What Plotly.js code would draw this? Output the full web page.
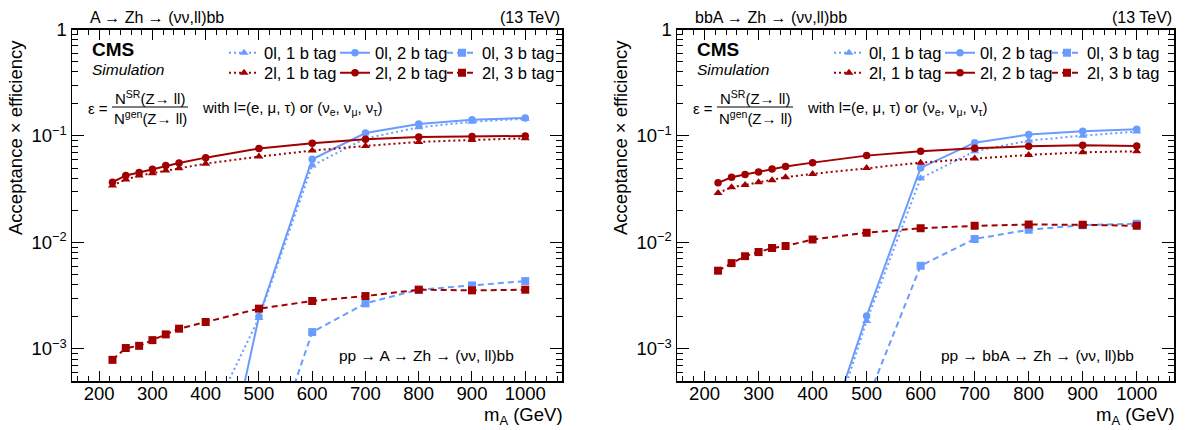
<!DOCTYPE html>
<html>
<head>
<meta charset="utf-8">
<script src="https://cdn.plot.ly/plotly-3.0.1.min.js"></script>
<style>html,body{margin:0;padding:0;background:#fff;}#chart{width:1185px;height:430px;}</style>
</head>
<body>
<div id="chart"></div>
<script>
// ---------------- data ----------------
const massAll = [225, 250, 275, 300, 325, 350, 400, 500, 600, 700, 800, 900, 1000];
const mass0l12 = [400, 500, 600, 700, 800, 900, 1000];
const mass0l3 = [500, 600, 700, 800, 900, 1000];

// A -> Zh (left panel)
const A_0l_1b = [1.8e-4, 0.00195, 0.0527, 0.0950, 0.1205, 0.1360, 0.1454];
const A_0l_2b = [1.0e-5, 0.00202, 0.0604, 0.1067, 0.1296, 0.1423, 0.1476];
const A_0l_3b = [4.9e-5, 0.00144, 0.00268, 0.00360, 0.00395, 0.00434];
const A_2l_1b = [0.0342, 0.0390, 0.0425, 0.0447, 0.0473, 0.0498, 0.0550, 0.0640, 0.0729, 0.0806, 0.0879, 0.0917, 0.0950];
const A_2l_2b = [0.0368, 0.0425, 0.0453, 0.0487, 0.0527, 0.0558, 0.0626, 0.0761, 0.0853, 0.0930, 0.0980, 0.0990, 0.1000];
const A_2l_3b = [0.00079, 0.00102, 0.00107, 0.00121, 0.00137, 0.00155, 0.00179, 0.00239, 0.00282, 0.00314, 0.00360, 0.00355, 0.00360];

// bbA -> Zh (right panel)
const B_0l_1b = [5.0e-5, 0.00183, 0.0401, 0.0718, 0.0904, 0.1007, 0.1099];
const B_0l_2b = [6.1e-5, 0.00204, 0.0501, 0.0866, 0.1030, 0.1106, 0.1155];
const B_0l_3b = [3.2e-4, 0.00604, 0.0108, 0.01315, 0.01454, 0.0150];
const B_2l_1b = [0.0292, 0.0330, 0.0347, 0.0368, 0.0384, 0.0410, 0.0440, 0.0501, 0.0562, 0.0613, 0.0664, 0.0703, 0.0718];
const B_2l_2b = [0.0363, 0.0410, 0.0434, 0.0460, 0.0491, 0.0516, 0.0562, 0.0654, 0.0718, 0.0766, 0.0800, 0.0818, 0.0806];
const B_2l_3b = [0.00543, 0.0064, 0.00744, 0.00812, 0.00886, 0.00925, 0.01067, 0.01233, 0.0136, 0.01432, 0.01475, 0.01465, 0.01432];

const seriesNames = ["0l, 1 b tag", "0l, 2 b tag", "0l, 3 b tag", "2l, 1 b tag", "2l, 2 b tag", "2l, 3 b tag"];
const xTickVals = [200, 300, 400, 500, 600, 700, 800, 900, 1000];
const yTickVals = [0.001, 0.01, 0.1, 1];
const yTickText = ["10<sup>\u22123</sup>", "10<sup>\u22122</sup>", "10<sup>\u22121</sup>", "1"];
const panelTitles = ["A \u2192 Zh \u2192 (\u03bd\u03bd,ll)bb", "bbA \u2192 Zh \u2192 (\u03bd\u03bd,ll)bb"];
const procTexts = ["pp \u2192 A \u2192 Zh \u2192 (\u03bd\u03bd, ll)bb", "pp \u2192 bbA \u2192 Zh \u2192 (\u03bd\u03bd, ll)bb"];

// ---------------- styling ----------------
const W = 1185, H = 430;
const BLUE = "#6a9cff", RED = "#a00000";
const FONT = "Liberation Sans, Arial, Helvetica, sans-serif";
const frames = [{l: 72, r: 562}, {l: 677, r: 1174}];
const TOP = 29.5, BOT = 381;
const px = x => x / W, py = y => 1 - y / H;

const dashes = ["2px,3px", "solid", "6px,4px"];
const symbols = ["triangle-up", "circle", "square"];
const msizes = [8, 7.5, 8];
const legTextStart = [190, 301, 408];   // relative to frame left
const legRowY = [53, 73];

const layout = {
  width: W, height: H, margin: {l: 0, r: 0, t: 0, b: 0}, paper_bgcolor: "#fff", plot_bgcolor: "#fff",
  showlegend: true, font: {family: FONT}
};

let legendCount = 0;
function mk(panel, idx, xs, ys) {
  const lep = idx < 3 ? 0 : 1;
  const k = idx % 3;
  const col = lep === 0 ? BLUE : RED;
  const ax = panel === 0 ? "" : "2";
  legendCount++;
  const leg = legendCount === 1 ? "legend" : "legend" + legendCount;
  layout[leg] = {
    x: px(frames[panel].l + legTextStart[k] - 38), y: py(legRowY[lep]), xanchor: "left", yanchor: "middle",
    orientation: "h", bgcolor: "rgba(0,0,0,0)", borderwidth: 0, itemwidth: 30,
    font: {family: FONT, size: 16.5, color: "#000"}
  };
  return {
    type: "scatter", mode: "lines+markers", x: xs, y: ys, name: seriesNames[idx],
    xaxis: "x" + ax, yaxis: "y" + ax, legend: leg,
    line: {color: col, width: 2, dash: dashes[k]},
    marker: {color: col, symbol: symbols[k], size: msizes[k]},
    cliponaxis: true
  };
}

const traces = [
  mk(0, 0, mass0l12, A_0l_1b), mk(0, 1, mass0l12, A_0l_2b), mk(0, 2, mass0l3, A_0l_3b),
  mk(0, 3, massAll, A_2l_1b), mk(0, 4, massAll, A_2l_2b), mk(0, 5, massAll, A_2l_3b),
  mk(1, 0, mass0l12, B_0l_1b), mk(1, 1, mass0l12, B_0l_2b), mk(1, 2, mass0l3, B_0l_3b),
  mk(1, 3, massAll, B_2l_1b), mk(1, 4, massAll, B_2l_2b), mk(1, 5, massAll, B_2l_3b)
];

const yMinor = [];
for (let e = -4; e <= -1; e++) for (let m = 2; m <= 9; m++) yMinor.push(m * Math.pow(10, e));

function xaxis(fr, anchor) {
  return {
    domain: [px(fr.l), px(fr.r)], anchor: anchor, range: [149, 1069],
    tickmode: "array", tickvals: xTickVals, ticks: "inside", ticklen: 10, tickwidth: 1, tickcolor: "#000",
    minor: {dtick: 20, tick0: 0, ticks: "inside", ticklen: 5, tickwidth: 1, tickcolor: "#000", showgrid: false},
    showline: true, linecolor: "#000", linewidth: 1.5, mirror: "ticks", showgrid: false, zeroline: false,
    ticklabelstandoff: -5,
    tickfont: {family: FONT, size: 18.5, color: "#000"}
  };
}
function yaxis(anchor) {
  return {
    domain: [py(BOT), py(TOP)], anchor: anchor, type: "log", range: [Math.log10(5e-4), 0],
    tickmode: "array", tickvals: yTickVals, ticktext: yTickText, ticks: "inside", ticklen: 12, tickwidth: 1, tickcolor: "#000",
    minor: {tickmode: "array", tickvals: yMinor, ticks: "inside", ticklen: 6, tickwidth: 1, tickcolor: "#000", showgrid: false},
    showline: true, linecolor: "#000", linewidth: 1.5, mirror: "ticks", showgrid: false, zeroline: false,
    tickfont: {family: FONT, size: 18.5, color: "#000"}
  };
}
layout.xaxis = xaxis(frames[0], "y"); layout.yaxis = yaxis("x");
layout.xaxis2 = xaxis(frames[1], "y2"); layout.yaxis2 = yaxis("x2");

const ann = [], shapes = [];
function A(text, x, y, size, xanchor, extra) {
  ann.push(Object.assign({text: text, x: px(x), y: py(y), xref: "paper", yref: "paper", showarrow: false,
    xanchor: xanchor || "left", yanchor: "middle", font: {family: FONT, size: size, color: "#000"}}, extra || {}));
}
const procRight = [516, 1136];
frames.forEach((fr, i) => {
  const L = fr.l, R = fr.r;
  A(panelTitles[i], L + 16, 17, 16);
  A("(13 TeV)", R, 17, 16, "right");
  A("<b>CMS</b>", L + 18, 50, 19);
  A("<i>Simulation</i>", L + 18, 69, 15.5);
  A("\u03b5 =", L + 14, 108, 15);
  A("N<sup>SR</sup>(Z\u2192 ll)", L + 78, 98, 15, "center");
  A("N<sup>gen</sup>(Z\u2192 ll)", L + 78, 118, 15, "center");
  A("with l=(e, \u03bc, \u03c4) or (\u03bd<sub>e</sub>, \u03bd<sub>\u03bc</sub>, \u03bd<sub>\u03c4</sub>)", L + 128, 108, 15);
  A(procTexts[i], procRight[i], 355, 15.5, "right");
  A("m<sub>A</sub> (GeV)", R + 3, 416, 18.5, "right");
  A("Acceptance \u00d7 efficiency", L - 57, 138, 18.5, "center", {textangle: -90});
  shapes.push({type: "line", xref: "paper", yref: "paper", x0: px(L + 40), x1: px(L + 116), y0: py(107), y1: py(107),
    line: {color: "#000", width: 1}});
});
layout.annotations = ann;
layout.shapes = shapes;

Plotly.newPlot("chart", traces, layout, {staticPlot: true, displayModeBar: false});
</script>
</body>
</html>
